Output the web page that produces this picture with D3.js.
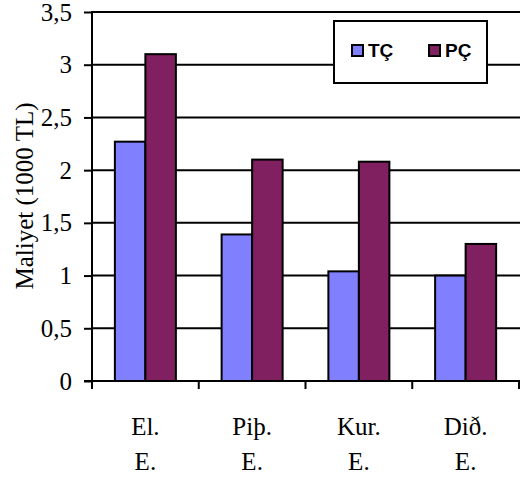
<!DOCTYPE html>
<html>
<head>
<meta charset="utf-8">
<script src="https://cdn.jsdelivr.net/npm/d3@7"></script>
<style>
  html, body { margin: 0; padding: 0; background: #fff; }
  svg { display: block; }
</style>
</head>
<body>
<svg id="chart" width="521" height="478"></svg>
<script>
// Cost per heating type, in thousands of TL
const categories = [["El.", "E."], ["Piþ.", "E."], ["Kur.", "E."], ["Dið.", "E."]];
const seriesNames = ["TÇ", "PÇ"];
const valuesTC = [2.27, 1.39, 1.04, 1.0];
const valuesPC = [3.10, 2.10, 2.08, 1.30];
const yTicks = [0, 0.5, 1, 1.5, 2, 2.5, 3, 3.5];
const yTickLabels = ["0", "0,5", "1", "1,5", "2", "2,5", "3", "3,5"];
const colors = ["#8080FF", "#802060"];

(function () {
const svg = d3.select("#chart");
const plotLeft = 92, plotRight = 519, plotTop = 12, plotBottom = 381;

const x0 = d3.scaleBand().domain(d3.range(categories.length)).range([plotLeft, plotRight]).paddingInner(0).paddingOuter(0);
const y = d3.scaleLinear().domain([0, 3.5]).range([plotBottom, plotTop]);
// Two bars per group, with a gap of 1.5 bar widths spread around them
const bw = x0.bandwidth() / 3.5;

// Horizontal gridlines
svg.append("g").selectAll("line").data(yTicks.filter(d => d > 0)).join("line")
  .attr("x1", plotLeft).attr("x2", plotRight + 1)
  .attr("y1", d => y(d)).attr("y2", d => y(d))
  .attr("stroke", "#000").attr("stroke-width", 2);

// Bars
const series = [valuesTC, valuesPC];
series.forEach((vals, si) => {
  svg.append("g").selectAll("rect").data(vals).join("rect")
    .attr("x", (d, i) => x0(i) + x0.bandwidth() / 2 - bw + si * bw)
    .attr("y", d => y(d))
    .attr("width", bw)
    .attr("height", d => y(0) - y(d))
    .attr("fill", colors[si])
    .attr("stroke", "#000")
    .attr("stroke-width", 2);
});

// Y axis
const yAxis = d3.axisLeft(y).tickValues(yTicks).tickSize(8)
  .tickFormat((d, i) => yTickLabels[i]).tickPadding(12);
const gy = svg.append("g").attr("transform", `translate(${plotLeft},0)`).call(yAxis);
gy.select(".domain").attr("d", `M0,${plotTop - 1}V${plotBottom + 1}`).attr("stroke", "#000").attr("stroke-width", 2);
gy.selectAll(".tick line").attr("stroke", "#000").attr("stroke-width", 2);
gy.selectAll(".tick text").attr("font-family", "Liberation Serif, Times New Roman, serif")
  .attr("font-size", 25).attr("fill", "#000");

// X axis: tick marks at group boundaries
svg.append("line").attr("x1", plotLeft - 8).attr("x2", plotRight + 1)
  .attr("y1", plotBottom).attr("y2", plotBottom).attr("stroke", "#000").attr("stroke-width", 2);
svg.append("g").selectAll("line").data(d3.range(categories.length + 1)).join("line")
  .attr("x1", i => plotLeft + i * x0.bandwidth()).attr("x2", i => plotLeft + i * x0.bandwidth())
  .attr("y1", plotBottom).attr("y2", plotBottom + 8)
  .attr("stroke", "#000").attr("stroke-width", 2);

// Category labels (two lines each)
const catG = svg.append("g").attr("font-family", "Liberation Serif, Times New Roman, serif")
  .attr("font-size", 25).attr("text-anchor", "middle").attr("fill", "#000");
categories.forEach((lines, i) => {
  lines.forEach((t, li) => {
    catG.append("text")
      .attr("x", x0(i) + x0.bandwidth() / 2)
      .attr("y", 435 + li * 35)
      .text(t);
  });
});

// Y axis title
svg.append("text")
  .attr("transform", "translate(33,196) rotate(-90)")
  .attr("text-anchor", "middle")
  .attr("font-family", "Liberation Serif, Times New Roman, serif")
  .attr("font-size", 25)
  .attr("fill", "#000")
  .text("Maliyet (1000 TL)");

// Legend
const lg = svg.append("g");
lg.append("rect").attr("x", 334).attr("y", 21).attr("width", 153).attr("height", 62)
  .attr("fill", "#fff").attr("stroke", "#000").attr("stroke-width", 2);
const legendX = [352, 429];
seriesNames.forEach((name, i) => {
  lg.append("rect").attr("x", legendX[i]).attr("y", 45).attr("width", 11).attr("height", 11)
    .attr("fill", colors[i]).attr("stroke", "#000").attr("stroke-width", 2);
  lg.append("text").attr("x", legendX[i] + 16).attr("y", 57)
    .attr("font-family", "Liberation Sans, Arial, sans-serif")
    .attr("font-weight", "bold").attr("font-size", 19).attr("fill", "#000")
    .text(name);
});
})();
</script>
</body>
</html>
